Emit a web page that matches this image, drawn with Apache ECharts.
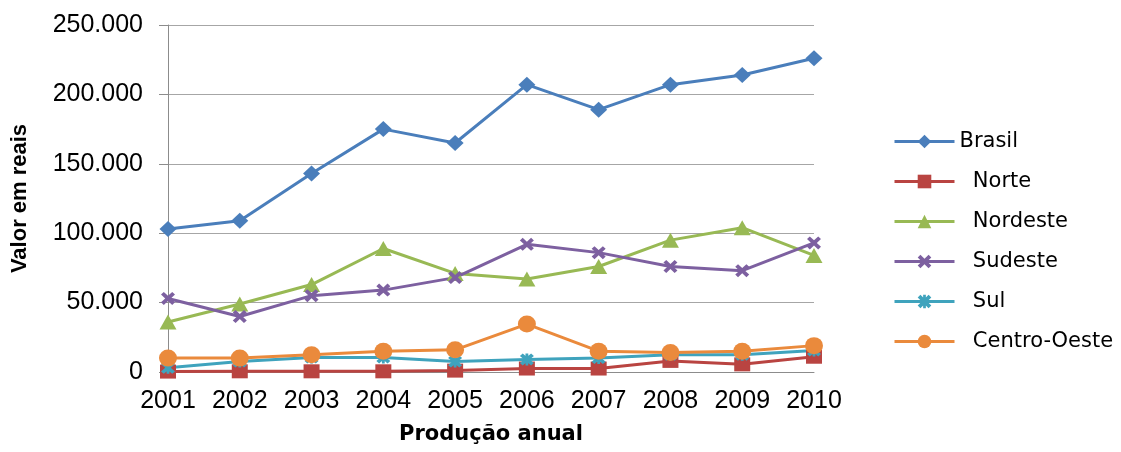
<!DOCTYPE html>
<html>
<head>
<meta charset="utf-8">
<script src="https://cdn.jsdelivr.net/npm/echarts@6/dist/echarts.min.js"></script>
<style>
  html, body { margin: 0; padding: 0; background: #ffffff; }
  #chart { width: 1121px; height: 452px; }
</style>
</head>
<body>
<div id="chart"></div>
<script>
// Annual production value by region, 2001–2010 (reais)
const years = ['2001', '2002', '2003', '2004', '2005', '2006', '2007', '2008', '2009', '2010'];
const brasil = [103000, 109000, 143000, 175000, 165000, 207000, 189000, 207000, 214000, 226000];
const norte = [300, 500, 500, 500, 1000, 2500, 2500, 8000, 5500, 11000];
const nordeste = [36000, 49000, 63000, 89000, 71000, 67000, 76000, 95000, 104000, 84000];
const sudeste = [53000, 40000, 55000, 59000, 68000, 92000, 86000, 76000, 73000, 93000];
const sul = [3000, 7500, 10500, 10500, 7500, 9000, 10000, 12500, 12500, 15500];
const centroOeste = [10000, 10000, 12500, 15000, 16000, 34500, 15000, 14000, 15000, 19000];
const yTicks = { min: 0, max: 250000, step: 50000 };

// Marker shapes: a thick "x" and an asterisk (x with a vertical bar)
const symX = 'path://M2,0 L5,3 L8,0 L10,2 L7,5 L10,8 L8,10 L5,7 L2,10 L0,8 L3,5 L0,2 Z';
const symStar = 'path://M2,0 L5,3 L8,0 L10,2 L7,5 L10,8 L8,10 L5,7 L2,10 L0,8 L3,5 L0,2 Z M4,0 L6,0 L6,10 L4,10 Z';

function fmt(v) {
  return String(v).replace(/\B(?=(\d{3})+(?!\d))/g, '.');
}

function line(name, data, color, symbol, size) {
  return {
    name: name,
    type: 'line',
    data: data,
    symbol: symbol,
    symbolSize: size,
    lineStyle: { color: color, width: 3 },
    itemStyle: { color: color },
    emphasis: { disabled: true },
    animation: false
  };
}

const chart = echarts.init(document.getElementById('chart'), null, { renderer: 'canvas' });
chart.setOption({
  backgroundColor: '#ffffff',
  animation: false,
  grid: { left: 168, right: 307, top: 25, bottom: 80, containLabel: false, outerBoundsMode: 'none' },
  legend: {
    orient: 'vertical',
    left: 888,
    top: 126,
    itemWidth: 60,
    itemHeight: 17,
    itemGap: 19,
    lineStyle: { width: 3 },
    formatter: function (name) { return name === 'Brasil' ? name : '  ' + name; },
    textStyle: { fontFamily: 'DejaVu Sans', fontSize: 21, color: '#000' },
    data: ['Brasil', 'Norte', 'Nordeste', 'Sudeste', 'Sul', 'Centro-Oeste']
  },
  xAxis: {
    type: 'category',
    data: years,
    boundaryGap: false,
    name: 'Produção anual',
    nameLocation: 'middle',
    nameGap: 52,
    nameTextStyle: { fontFamily: 'DejaVu Sans', fontWeight: 'bold', fontSize: 21, color: '#000' },
    axisLine: { lineStyle: { color: '#8c8c8c', width: 1 } },
    axisTick: { show: false },
    axisLabel: { interval: 0, hideOverlap: false, fontFamily: 'Liberation Sans', fontSize: 25, color: '#000', margin: 17 }
  },
  yAxis: {
    type: 'value',
    min: yTicks.min,
    max: yTicks.max,
    interval: yTicks.step,
    name: 'Valor em reais',
    nameLocation: 'middle',
    nameGap: 137,
    nameRotate: 90,
    nameTextStyle: { fontFamily: 'Liberation Sans', fontWeight: 'bold', fontSize: 22, color: '#000' },
    axisLine: { show: true, lineStyle: { color: '#8c8c8c', width: 1 } },
    axisTick: { show: true, length: 9, lineStyle: { color: '#8c8c8c', width: 1 } },
    splitLine: { lineStyle: { color: '#a6a6a6', width: 1 } },
    axisLabel: { fontFamily: 'Liberation Sans', fontSize: 25, color: '#000', margin: 25, formatter: fmt }
  },
  series: [
    line('Brasil', brasil, '#4a7ebb', 'diamond', [17, 16]),
    line('Norte', norte, '#b94441', 'rect', [16, 14]),
    line('Nordeste', nordeste, '#98b954', 'triangle', [17, 15]),
    line('Sudeste', sudeste, '#7d60a0', symX, [14, 13]),
    line('Sul', sul, '#3fa3bd', symStar, [14, 12]),
    line('Centro-Oeste', centroOeste, '#ea8a3c', 'circle', [18, 17])
  ]
});
</script>
</body>
</html>
